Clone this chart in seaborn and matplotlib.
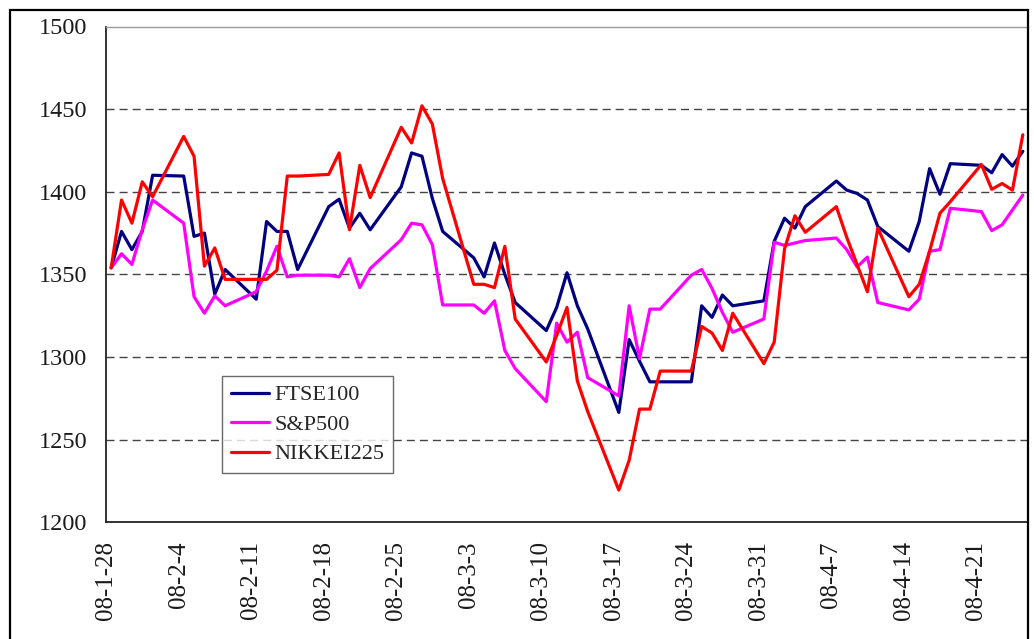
import numpy as np
import pandas as pd
import matplotlib
matplotlib.use("Agg")
import matplotlib.pyplot as plt
from matplotlib.patches import Rectangle
import seaborn as sns

# trading days (Mon-Fri) from 2008-01-28 to 2008-04-25
dates = pd.bdate_range("2008-01-28", "2008-04-25")

ftse100 = [1354, 1376, 1365, 1376, 1410,
           1409.5, 1373, 1375, 1338, 1353,
           1335, 1382, 1376, 1376, 1353,
           1391, 1395.5, 1378, 1387, 1377,
           1403, 1423.5, 1421.5, 1396, 1376,
           1360, 1348.5, 1369, 1350, 1333,
           1316, 1330, 1351, 1331, 1317,
           1266.5, 1310.5, 1297.5, 1285, 1285,
           1285, 1331, 1324, 1337.5, 1331,
           1334, 1370, 1384, 1378, 1391,
           1406.5, 1401, 1399, 1395, 1379,
           1364, 1382, 1414, 1398.5, 1417,
           1416, 1411.5, 1422.5, 1415.5, 1424.5]

sp500 = [1354, 1362.5, 1356, 1377, 1395,
         1381, 1336.5, 1326.5, 1337, 1331,
         1339.5, 1352, 1367, 1348.5, 1349.5,
         1349.5, 1348.5, 1359.5, 1342, 1353.5,
         1371, 1381, 1380, 1368, 1331.5,
         1331.5, 1326.5, 1334, 1304, 1293,
         1273, 1320.5, 1309, 1315, 1287.5,
         1276.5, 1331, 1299, 1329, 1329,
         1349.5, 1353, 1341.5, 1327, 1315,
         1323, 1369.5, 1367.5, 1369, 1370.5,
         1372, 1365, 1354.5, 1360.5, 1333,
         1328.5, 1335, 1364, 1365, 1390,
         1388, 1376.5, 1380, 1389, 1398]

nikkei225 = [1354, 1395, 1381, 1406, 1397,
             1433.5, 1421.5, 1355, 1366, 1347,
             1347, 1347, 1352.5, 1409.5, 1409.5,
             1410.5, 1423.5, 1377, 1416, 1396.5,
             1439, 1429.5, 1452, 1441, 1408,
             1344, 1344, 1342, 1367, 1323,
             1297, 1313, 1330, 1285.5, 1267,
             1219.5, 1237.5, 1268.5, 1268.5, 1291.5,
             1291.5, 1318.5, 1314.5, 1304, 1326.5,
             1296, 1309, 1365.5, 1385.5, 1375.5,
             1391, 1372.5, 1356, 1339.5, 1378,
             1336.5, 1344, 1364, 1387, 1394,
             1416.5, 1401.5, 1405, 1401, 1434.5]

series_names = ["FTSE100", "S&P500", "NIKKEI225"]
series_colors = ["#000080", "#FF00FF", "#FF0000"]

tick_dates = pd.date_range("2008-01-28", "2008-04-21", freq="7D")
tick_labels = [f"08-{d.month}-{d.day}" for d in tick_dates]

start = pd.Timestamp("2008-01-28")
day = (dates - start).days.values + 0.5  # points sit between tick marks

df = pd.concat([
    pd.DataFrame({"day": day, "value": v, "index": n})
    for n, v in zip(series_names, [ftse100, sp500, nikkei225])
])

sns.set_style("white")
plt.rcParams["font.family"] = ["Liberation Serif", "DejaVu Serif"]

fig = plt.figure(figsize=(10.34, 6.39), dpi=100)
ax = fig.add_axes([106 / 1034, 1 - 522.3 / 639, (1028 - 106) / 1034, (522.3 - 26.5) / 639])

sns.lineplot(data=df, x="day", y="value", hue="index", hue_order=series_names,
             palette=series_colors, linewidth=2.3, ax=ax)

ax.set_xlim(0, 89)
ax.set_ylim(1200, 1500)
ax.set_yticks(np.arange(1200, 1501, 50))
ax.set_xticks((tick_dates - start).days.values)
ax.set_xticklabels(tick_labels, rotation=90)
ax.set_xlabel("")
ax.set_ylabel("")

ax.tick_params(axis="x", direction="in", length=5.8, width=1, color="black",
               labelsize=18, pad=13.5, labelcolor="#1a1a1a")
ax.tick_params(axis="y", direction="in", length=5, width=1, color="black",
               labelsize=17.5, pad=13.5, labelcolor="#1a1a1a")

ax.set_axisbelow(True)
ax.yaxis.grid(True, linestyle=(0, (5.8, 3.6)), color="#444444", linewidth=1)
gl = ax.yaxis.get_gridlines()
gl[0].set_visible(False)
gl[-1].set_visible(False)

for s in ["left", "bottom"]:
    ax.spines[s].set_color("#222222")
    ax.spines[s].set_linewidth(1.3)
ax.spines["top"].set_color("#999999")
ax.spines["top"].set_linewidth(1)
ax.spines["right"].set_visible(False)

handles, labels = ax.get_legend_handles_labels()
leg = ax.legend(handles, labels, loc="upper left",
                bbox_to_anchor=((222 - 106) / 922, (522.3 - 376) / 495.8),
                borderaxespad=0, fontsize=16, frameon=True, fancybox=False,
                edgecolor="#444444", handlelength=1.7, handletextpad=0.25,
                labelspacing=0.4, borderpad=0.4)
leg.get_frame().set_linewidth(1)
for line in leg.get_lines():
    line.set_linewidth(2.3)

# outer chart frame
fig.add_artist(Rectangle((10 / 1034, -0.1), (1028 - 10) / 1034, 1 - 10 / 639 + 0.1,
                         transform=fig.transFigure, fill=False,
                         edgecolor="black", linewidth=1.6))

fig.savefig("out.png", dpi=100)
